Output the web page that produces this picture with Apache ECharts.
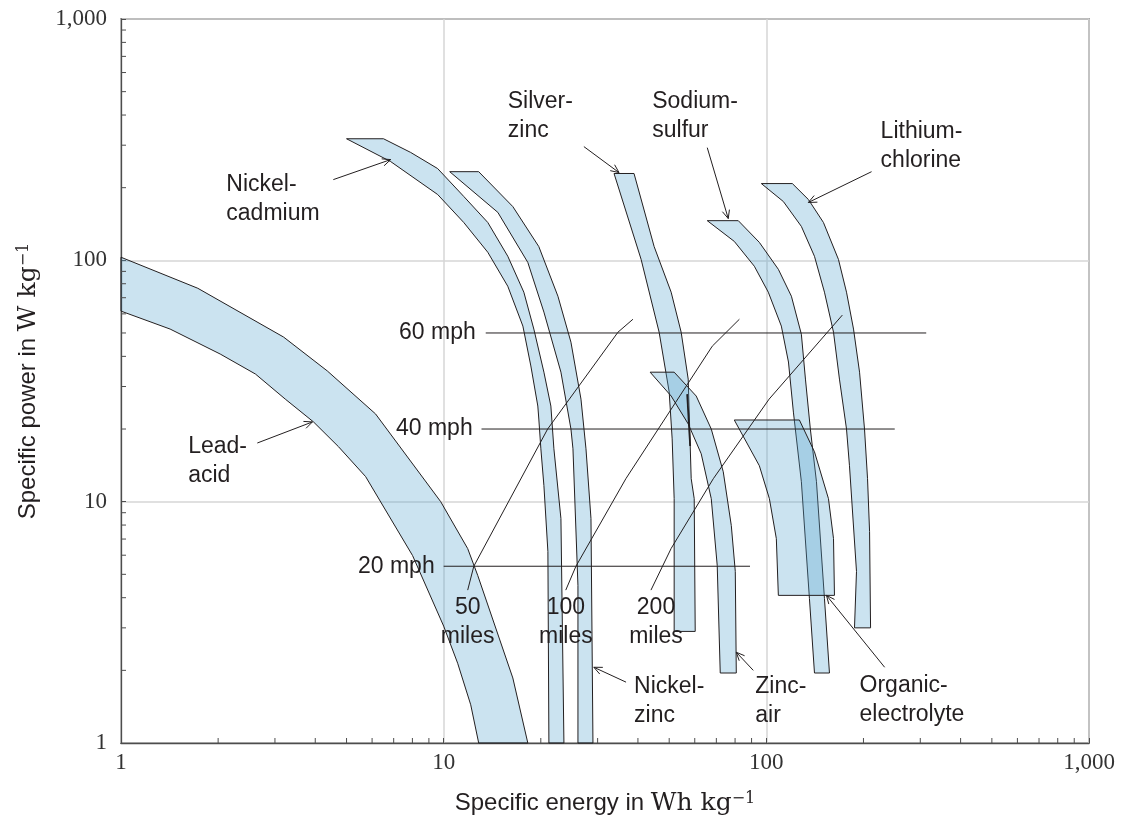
<!DOCTYPE html>
<html><head><meta charset="utf-8">
<script src="https://cdn.jsdelivr.net/npm/echarts@6/dist/echarts.min.js"></script>
<style>html,body{margin:0;padding:0;background:#fff}#c{width:1124px;height:821px}</style>
</head><body><div id="c"></div>
<script>
// ---- axis ticks ----
const majorTicks = [1, 10, 100, 1000];
const minorTicks = [2,3,4,5,6,7,8,9,20,30,40,50,60,70,80,90,200,300,400,500,600,700,800,900];

// ---- battery bands: outline points [specific energy Wh/kg, specific power W/kg] ----
const leadAcid = [[1,103],[1.73,76.6],[3.19,48.1],[4.36,34.8],[6.15,23.1],[9.79,10],[11.87,6.39],[12.75,4.95],[16.38,1.86],[18.23,1],
  [12.84,1],[12.13,1.44],[11.05,2.14],[10,3.05],[8.01,5.98],[5.73,12.7],[4.72,16.9],[3.95,21.4],[3.23,26.6],[2.61,33.8],[2.03,40.9],[1.42,51.9],[1,61.6]];
const nickelCadmium = [[5.0,319],[6.51,319],[7.9,280],[9.58,240],[11.54,184],[13.7,143.5],[15.8,104],[17.72,73.8],[19.03,51.9],[20.45,34.4],[21.49,24.9],[21.96,16.56],[23.09,8.51],[23.59,1],
  [21.19,1],[21.04,6.21],[20.45,11.65],[20.01,16.56],[19.72,22],[19.58,24.9],[18.63,36.5],[17.6,53.4],[15.8,78.1],[13.7,108],[11.54,143.5],[9.58,187.4],[6.85,256.6]];
const nickelZinc = [[10.44,233],[12.84,233],[16.38,167],[19.72,114],[22.6,71],[24.8,45.8],[26.64,26.6],[27.61,16.56],[28.61,8.51],[29.02,1],
  [26.07,1],[26.07,4.5],[25.16,16.56],[24.8,20],[23.09,34.4],[20.45,61],[18.23,98],[14.72,158]];
const silverZinc = [[33.73,229],[38.9,229],[44.91,114],[50.7,73.8],[54.45,50.4],[57.26,32.2],[58.5,12.45],[59.77,10.29],[60.2,2.9],
  [51.8,2.9],[51.8,10.29],[51.07,18.2],[49.99,28.5],[46.53,50.4],[40.91,101]];
const zincAir = [[43.64,34.4],[51.8,34.4],[60.63,27.4],[67.5,20],[73.54,13.3],[77.88,7.96],[80.13,5.14],[80.7,1.95],
  [71.97,1.95],[70.44,5.44],[67.5,10.29],[62.83,15.79],[57.26,21],[50.7,27.4]];
const sodiumSulfur = [[65.6,146],[81.85,146],[95.13,118.7],[108.96,91.8],[119.58,71],[128.4,49.4],[132.2,32.2],[136.9,20],[143,12.1],[151.4,3.97],[156.9,1.95],
  [141,1.95],[136,3.97],[128.4,12.1],[121.3,23.5],[117.1,37.9],[111.3,53.4],[101.4,73.8],[91.8,94.5],[79.56,119.8]];
const lithiumChlorine = [[96.5,208],[120.4,208],[135,178.7],[150.3,143.5],[167.3,100.9],[177.2,73.8],[186.3,51.9],[194.5,34.4],[201.5,20],[205.9,12.45],[208.9,7.52],[210.4,3],
  [187.6,3],[190.3,5.14],[181,14.09],[177.2,20],[168.5,32.2],[161.5,50.4],[151.4,73.8],[141,103.9],[128.4,138.2],[112.9,175.3]];
const organicElectrolyte = [[79.56,21.8],[126.6,21.8],[141,16.09],[155.8,10.29],[161.5,7.03],[162.6,4.09],
  [108.96,4.09],[107.4,7.03],[102.2,10.29],[95.13,14.09]];

// ---- speed lines (constant power) ----
const speed60 = [[13.5,50],[313,50]];
const speed40 = [[13.1,20],[250,20]];
const speed20 = [[10,5.4],[89,5.4]];
// ---- range lines ----
const range50 = [[38.6,57],[34.7,50.4],[21,20],[12.4,5.4],[11.87,4.3]];
const range100 = [[82.5,57],[68,44.1],[36.7,12.45],[25.7,5.4],[23.9,4.3]];
const range200 = [[172,59.3],[102,26.6],[68.5,12.45],[50.7,6.4],[43.9,4.3]];
const stray = [[56.85,27.9],[58.07,17.0]];

// ---- annotations ----
const bandLabelText = ['Nickel-\ncadmium','Silver-\nzinc','Sodium-\nsulfur','Lithium-\nchlorine','Lead-\nacid','Nickel-\nzinc','Zinc-\nair','Organic-\nelectrolyte'];
const bandLabelAt = [[2.12,180],[15.8,397],[44.3,397],[226,296],[1.615,14.77],[38.9,1.49],[92.4,1.49],[194.5,1.505]];
const speedLabelText = ['60 mph','40 mph','20 mph'];
const speedLabelAt = [[12.57,50],[12.3,20],[9.38,5.39]];
const rangeLabelText = ['50\nmiles','100\nmiles','200\nmiles'];
const rangeLabelAt = [[11.87,3.16],[23.92,3.16],[45.5,3.16]];
const arrowFromTo = [
  [4.55,216,6.85,261.5],[27.2,296,34.95,231],[65.6,293,76.2,149],[211.9,233,135,173.7],
  [2.645,17.5,3.92,21.4],[36.75,1.787,29.2,2.06],[91.1,2.0,80.7,2.377],[232.6,2.06,153.6,4.09]
];

const bands = [leadAcid, nickelCadmium, nickelZinc, silverZinc, zincAir, sodiumSulfur, lithiumChlorine, organicElectrolyte];
const INK = '#231f20';
const SANS = 'Liberation Sans';
const SERIF = 'DejaVu Serif';

function bandSeries(pts) {
  return {
    type: 'custom', silent: true, z: 2, clip: false,
    data: [pts[0]],
    renderItem: (params, api) => ({
      type: 'polygon',
      shape: { points: pts.map(p => api.coord(p)) },
      style: { fill: 'rgba(82,162,205,0.3)', stroke: INK, lineWidth: 1 }
    })
  };
}
function lineSeries(pts, w) {
  return { type: 'line', data: pts, showSymbol: false, symbol: 'none', silent: true, z: 3,
    lineStyle: { color: INK, width: w || 1 } };
}
function textSeries(pos, texts, align) {
  return {
    type: 'custom', silent: true, z: 5, clip: false, data: pos,
    renderItem: (params, api) => {
      const c = api.coord([api.value(0), api.value(1)]);
      return { type: 'text', x: c[0], y: c[1],
        style: { text: texts[params.dataIndex], fontFamily: SANS, fontSize: 23, lineHeight: 29,
          fill: INK, align: align, verticalAlign: 'middle' } };
    }
  };
}
function tickSeries(values, horizontal) {
  return {
    type: 'custom', silent: true, z: 4, clip: false,
    data: values.map(v => horizontal ? [v, 1] : [1, v]),
    renderItem: (params, api) => {
      const c = api.coord([api.value(0), api.value(1)]);
      return { type: 'line',
        shape: horizontal ? { x1: c[0], y1: c[1], x2: c[0], y2: c[1] - 5 } : { x1: c[0], y1: c[1], x2: c[0] + 5, y2: c[1] },
        style: { stroke: '#4d4d4d', lineWidth: 1 } };
    }
  };
}
const arrowSeries = {
  type: 'custom', silent: true, z: 4, clip: false,
  dimensions: ['x1','y1','x2','y2'], encode: { x: [0,2], y: [1,3] },
  data: arrowFromTo,
  renderItem: (params, api) => {
    const a = api.coord([api.value(0), api.value(1)]);
    const b = api.coord([api.value(2), api.value(3)]);
    const ang = Math.atan2(b[1]-a[1], b[0]-a[0]);
    const L = 9, w = 0.42;
    const h1 = [b[0]-L*Math.cos(ang-w), b[1]-L*Math.sin(ang-w)];
    const h2 = [b[0]-L*Math.cos(ang+w), b[1]-L*Math.sin(ang+w)];
    return { type: 'group', children: [
      { type: 'line', shape: { x1: a[0], y1: a[1], x2: b[0], y2: b[1] }, style: { stroke: INK, lineWidth: 1 } },
      { type: 'polyline', shape: { points: [h1, b, h2] }, style: { stroke: INK, lineWidth: 1, fill: null } }
    ]};
  }
};

const fmt = v => Number(v).toLocaleString('en-US');
const nameRich = {
  a: { fontFamily: SANS, fontSize: 24, color: INK },
  b: { fontFamily: SERIF, fontSize: 25, color: INK },
  c: { fontFamily: SERIF, fontSize: 16, color: INK, verticalAlign: 'top' }
};
function axisCommon() {
  return {
    type: 'log', logBase: 10, min: 1, max: 1000,
    axisLine: { show: true, lineStyle: { color: '#4d4d4d', width: 1.3 } },
    axisTick: { show: true, inside: true, length: 5, lineStyle: { color: '#4d4d4d' } },
    splitLine: { show: true, lineStyle: { color: '#d6d6d6', width: 1.5 } },
    axisLabel: { formatter: fmt, fontFamily: 'Liberation Serif', fontSize: 23, color: '#333', showMinLabel: true, showMaxLabel: true },
    nameLocation: 'middle'
  };
}
const xAxis = Object.assign(axisCommon(), {
  name: '{a|Specific energy in }{b|Wh kg}{c|\u22121}', nameGap: 48,
  nameTextStyle: { rich: nameRich }
});
xAxis.axisLabel.margin = 8;
const yAxis = Object.assign(axisCommon(), {
  name: '{a|Specific power in }{b|W kg}{c|\u22121}', nameGap: 80, nameRotate: 90,
  nameTextStyle: { rich: nameRich }
});
yAxis.axisLabel.margin = 14;

const chart = echarts.init(document.getElementById('c'), null, { renderer: 'canvas' });
chart.setOption({
  animation: false,
  backgroundColor: '#fff',
  grid: { left: 121, right: 35, top: 19, bottom: 76, show: true, borderColor: '#4d4d4d', borderWidth: 1.3, containLabel: false },
  xAxis: xAxis,
  yAxis: yAxis,
  series: [
    ...bands.map(bandSeries),
    lineSeries(speed60), lineSeries(speed40), lineSeries(speed20),
    lineSeries(range50), lineSeries(range100), lineSeries(range200),
    lineSeries(stray, 1.8),
    tickSeries(minorTicks, true), tickSeries(minorTicks, false),
    arrowSeries,
    textSeries(bandLabelAt, bandLabelText, 'left'),
    textSeries(speedLabelAt, speedLabelText, 'right'),
    textSeries(rangeLabelAt, rangeLabelText, 'center')
  ]
});
</script></body></html>
